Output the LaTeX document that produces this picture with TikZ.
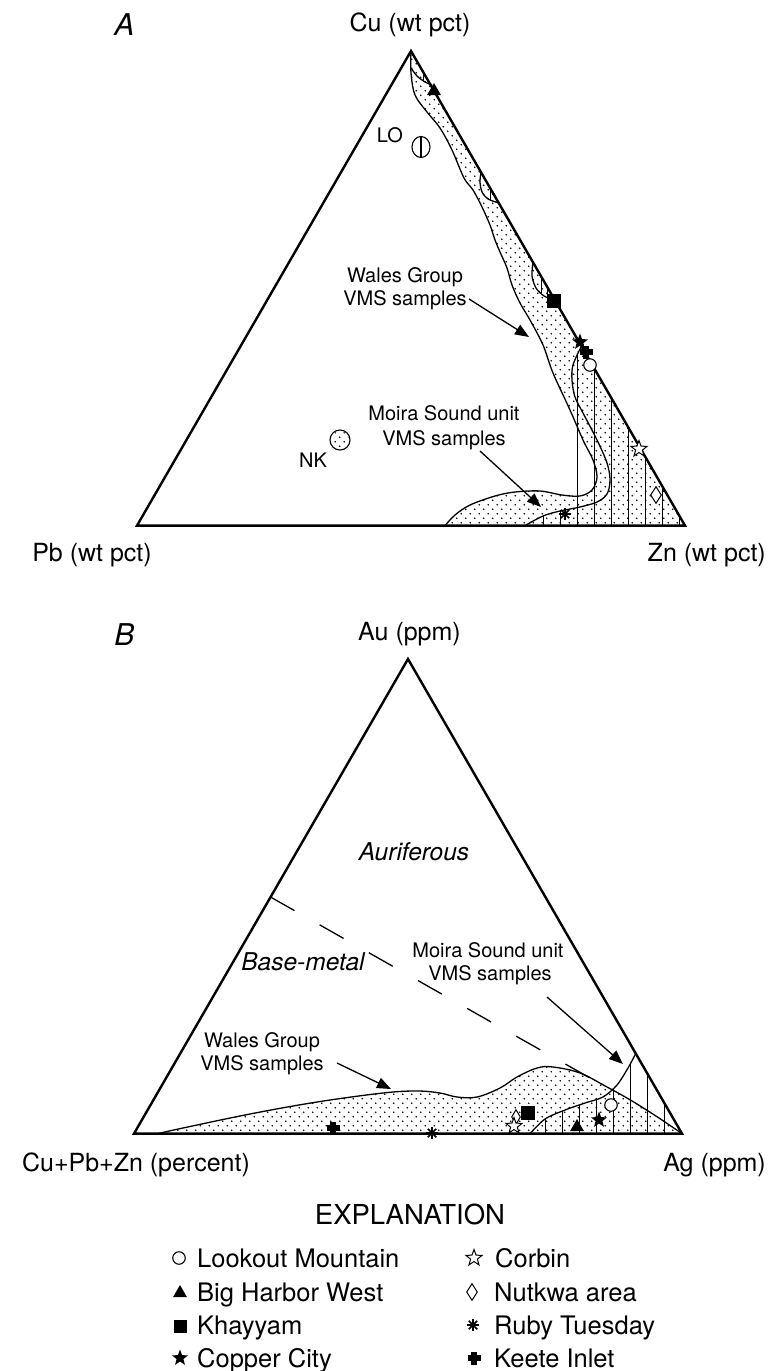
\documentclass[tikz,border=0pt]{standalone}
\usepackage{fontspec}
\setmainfont{TeX Gyre Heros}
\usetikzlibrary{arrows.meta,shapes.geometric,patterns}
\pgfdeclarepatternformonly{sdots}{\pgfqpoint{-1pt}{-1pt}}{\pgfqpoint{10pt}{10pt}}{\pgfqpoint{9pt}{9pt}}{%
  \pgfpathcircle{\pgfqpoint{2.25pt}{2.25pt}}{0.85pt}%
  \pgfpathcircle{\pgfqpoint{6.75pt}{6.75pt}}{0.85pt}%
  \pgfusepath{fill}}
\tikzset{
  tri/.style={line width=2.4pt, line join=miter},
  bnd/.style={line width=1.3pt},
  hat/.style={line width=0.8pt},
  arr/.style={line width=1.3pt, -{Triangle[length=14pt,width=11pt]}},
  lab/.style={font=\fontsize{25}{30}\selectfont, anchor=base, inner sep=0pt},
  ann/.style={font=\fontsize{20}{24}\selectfont, anchor=base, inner sep=0pt},
  big/.style={font=\fontsize{30}{36}\selectfont\itshape, anchor=base, inner sep=0pt},
  field/.style={font=\fontsize{24.5}{30}\selectfont\itshape, anchor=base, inner sep=0pt},
  leg/.style={font=\fontsize{25.5}{30}\selectfont, anchor=base west, inner sep=0pt},
  ocirc/.style={circle, draw, line width=1.1pt, fill=white, inner sep=0pt, minimum size=12.5pt},
  ftri/.style={regular polygon, regular polygon sides=3, fill, inner sep=0pt, minimum size=16pt},
  fsq/.style={rectangle, fill, inner sep=0pt, minimum size=13.5pt},
  fstar/.style={star, star points=5, star point ratio=2.4, fill, inner sep=0pt, minimum size=17pt},
  ostar/.style={star, star points=5, star point ratio=2.4, draw, fill=white, line width=1pt, inner sep=0pt, minimum size=17pt},
  odia/.style={diamond, draw, fill=white, line width=1pt, inner sep=0pt, minimum width=11pt, minimum height=17pt},
  pics/kcross/.style={code={\fill (-6.5,-2.7) rectangle (6.5,2.7); \fill (-2.7,-6.5) rectangle (2.7,6.5);}},
  pics/aster/.style={code={\foreach \a in {0,45,90,135} \draw[line width=1.6pt] (\a:6) -- (\a+180:6);}}
}
\begin{document}
\begin{tikzpicture}[x=1pt,y=-1pt]
\useasboundingbox (0,0) rectangle (769,1371);
% ---------------- Panel A ----------------
\coordinate (At) at (411,51);
\coordinate (Al) at (137,525.6);
\coordinate (Ar) at (685,525.6);
\fill[pattern=sdots] plot[smooth, tension=0.55] coordinates {(411,51) (411,73) (415,95) (427,112) (440,128) (452,150) (464,178) (473,190) (482,207) (490,225) (495,240) (500,252) (507,268) (512,285) (520,303) (530,320) (543,345) (553,373) (570,410) (583,440) (593,460) (597,477) (592,490) (580,496) (562,495) (540,491) (515,492) (495,496) (470,505) (455,515) (445,525.6)} -- (Ar) -- cycle;
\begin{scope}
\clip plot[smooth] coordinates {(581,347) (573,365) (572,380)} -- (573,506) -- plot[smooth] coordinates {(573,507) (560,511) (543,516) (525,525.6)} -- (Ar) -- cycle;
\foreach \x in {543,560,...,680} \draw[hat] (\x,330) -- (\x,530);
\end{scope}
\draw[bnd] plot[smooth, tension=0.55] coordinates {(411,51) (411,73) (415,95) (427,112) (440,128) (452,150) (464,178) (473,190) (482,207) (490,225) (495,240) (500,252) (507,268) (512,285) (520,303) (530,320) (543,345) (553,373) (570,410) (583,440) (593,460) (597,477) (592,490) (580,496) (562,495) (540,491) (515,492) (495,496) (470,505) (455,515) (445,525.6)};
\draw[bnd] plot[smooth, tension=0.55] coordinates {(581,347) (573,365) (572,380) (575,397) (583,413) (597,440) (607,463) (610,480) (607,494) (597,502) (580,507) (560,511) (543,516) (525,525.6)};
\draw[bnd] plot[smooth] coordinates {(411,68) (417,76) (425,82) (432,85)};
\draw[hat] (423,71) -- (423,81);
\draw[bnd] plot[smooth] coordinates {(481,172) (480,182) (482,192) (488,199) (499,203)};
\draw[hat] (490,187) -- (490,200);
\draw[bnd] plot[smooth] coordinates {(533,262) (532,276) (536,288) (544,296) (552,299)};
\draw[hat] (541,276) -- (541,293);
\draw[hat] (547,286) -- (547,297);
\draw[tri] (At) -- (Ar) -- (Al) -- cycle;
\node[big] (Alab) at (124.5,35) {A};
\node[lab] (Acu) at (410,31) {Cu (wt pct)};
\node[lab] (Apb) at (92,561) {Pb (wt pct)};
\node[lab, anchor=base east] (Azn) at (766,561) {Zn (wt pct)};
\node[ann, anchor=base east] (LOl) at (403,142) {LO};
\node[ann] (NKl) at (313,467) {NK};
\node[ann] (wA1) at (405,282) {Wales Group};
\node[ann] (wA2) at (405,305) {VMS samples};
\node[ann] (mA1) at (444,420) {Moira Sound unit};
\node[ann] (mA2) at (444,445) {VMS samples};
\coordinate (wAs) at (469,299);
\coordinate (wAt) at (529,337);
\coordinate (mAs) at (480,451);
\coordinate (mAt) at (541,507);
\draw[arr] (wAs) -- (wAt);
\draw[arr] (mAs) -- (mAt);
\node[ftri] (a-bhw) at (434,91) {};
\draw[line width=1.1pt, fill=white] (421,147) ellipse (9 and 10.5);
\draw[line width=1.1pt] (421,136.5) -- (421,157.5);
\coordinate (a-lo) at (421,147);
\draw[line width=1.1pt, fill=white] (340,440) circle (10);
\fill[pattern=sdots] (340,440) circle (9);
\coordinate (a-nk) at (340,440);
\node[fsq] (a-kh) at (554,301) {};
\node[fstar] (a-cc) at (580,342) {};
\pic at (586,352) {kcross};
\node[ocirc] (a-lm) at (590,365) {};
\node[ostar] (a-co) at (639,449) {};
\node[odia] (a-nu) at (656,495) {};
\pic at (565,514) {aster};
% ---------------- Panel B ----------------
\coordinate (Bt) at (408,659);
\coordinate (Bl) at (134,1133.6);
\coordinate (Br) at (682,1133.6);
\fill[pattern=sdots] plot[smooth, tension=0.6] coordinates {(158,1133.6) (183,1128) (250,1114) (317,1102) (383,1093) (417,1091) (440,1093) (457,1097) (477,1097) (500,1088) (517,1077) (537,1068) (553,1067) (580,1073) (607,1087) (627,1098) (645,1109) (662,1120) (682,1133.6)} -- cycle;
\begin{scope}
\clip plot[smooth] coordinates {(636,1053) (628,1068) (617,1085) (603,1097) (585,1103) (565,1110) (545,1119) (530,1133.6)} -- (Br) -- cycle;
\foreach \x in {545,562,...,681} \draw[hat] (\x,1040) -- (\x,1140);
\end{scope}
\draw[bnd] plot[smooth, tension=0.6] coordinates {(158,1133.6) (183,1128) (250,1114) (317,1102) (383,1093) (417,1091) (440,1093) (457,1097) (477,1097) (500,1088) (517,1077) (537,1068) (553,1067) (580,1073) (607,1087) (627,1098) (645,1109) (662,1120) (682,1133.6)};
\draw[bnd] plot[smooth] coordinates {(636,1053) (628,1068) (617,1085) (603,1097) (585,1103) (565,1110) (545,1119) (530,1133.6)};
\coordinate (dL) at (270.5,897);
\coordinate (dR) at (590,1078);
\draw[line width=1.3pt, dash pattern=on 27.5pt off 29pt] (dL) -- (dR);
\draw[tri] (Bt) -- (Br) -- (Bl) -- cycle;
\node[big] (Blab) at (124.5,645) {B};
\node[lab] (Bau) at (409.5,640) {Au (ppm)};
\node[lab, anchor=base east] (Bcu) at (250,1171) {Cu+Pb+Zn (percent)};
\node[lab, anchor=base east] (Bag) at (766,1171) {Ag (ppm)};
\node[field] (aur) at (414,860) {Auriferous};
\node[field] (bm) at (303,970) {Base-metal};
\node[ann] (mB1) at (488,957) {Moira Sound unit};
\node[ann] (mB2) at (490,980) {VMS samples};
\node[ann] (wB1) at (262,1047) {Wales Group};
\node[ann] (wB2) at (262,1070) {VMS samples};
\coordinate (mBs) at (547,997);
\coordinate (mBt) at (623,1064);
\coordinate (wBs) at (337,1063);
\coordinate (wBt) at (391,1089);
\draw[arr] (mBs) -- (mBt);
\draw[arr] (wBs) -- (wBt);
\pic at (333,1128) {kcross};
\pic at (432,1133) {aster};
\node[odia, minimum width=9pt, minimum height=15pt] (b-nu) at (516,1117) {};
\node[ostar] (b-co) at (514,1126) {};
\node[fsq] (b-kh) at (528,1113) {};
\node[ftri] (b-bhw) at (577,1127) {};
\node[fstar] (b-cc) at (599,1120) {};
\node[ocirc] (b-lm) at (611,1105) {};
% ---------------- Explanation ----------------
\node[font=\fontsize{27.5}{33}\selectfont, anchor=base, inner sep=0pt] (expl) at (410,1224) {EXPLANATION};
\node[ocirc] (l1) at (179,1258) {};
\node[leg] (t1) at (197,1267) {Lookout Mountain};
\node[ftri] (l2) at (180,1293) {};
\node[leg] (t2) at (197,1301) {Big Harbor West};
\node[fsq, minimum size=13pt] (l3) at (180,1326) {};
\node[leg] (t3) at (197,1334) {Khayyam};
\node[fstar] (l4) at (180,1358) {};
\node[leg] (t4) at (197,1367) {Copper City};
\node[ostar] (l5) at (474,1258) {};
\node[leg] (t5) at (495,1267) {Corbin};
\node[odia] (l6) at (472,1292) {};
\node[leg] (t6) at (494,1301) {Nutkwa area};
\pic at (473,1325) {aster};
\coordinate (l7) at (473,1325);
\node[leg] (t7) at (494,1334) {Ruby Tuesday};
\pic at (474,1358) {kcross};
\coordinate (l8) at (474,1358);
\node[leg] (t8) at (494,1367) {Keete Inlet};
\end{tikzpicture}
\end{document}
